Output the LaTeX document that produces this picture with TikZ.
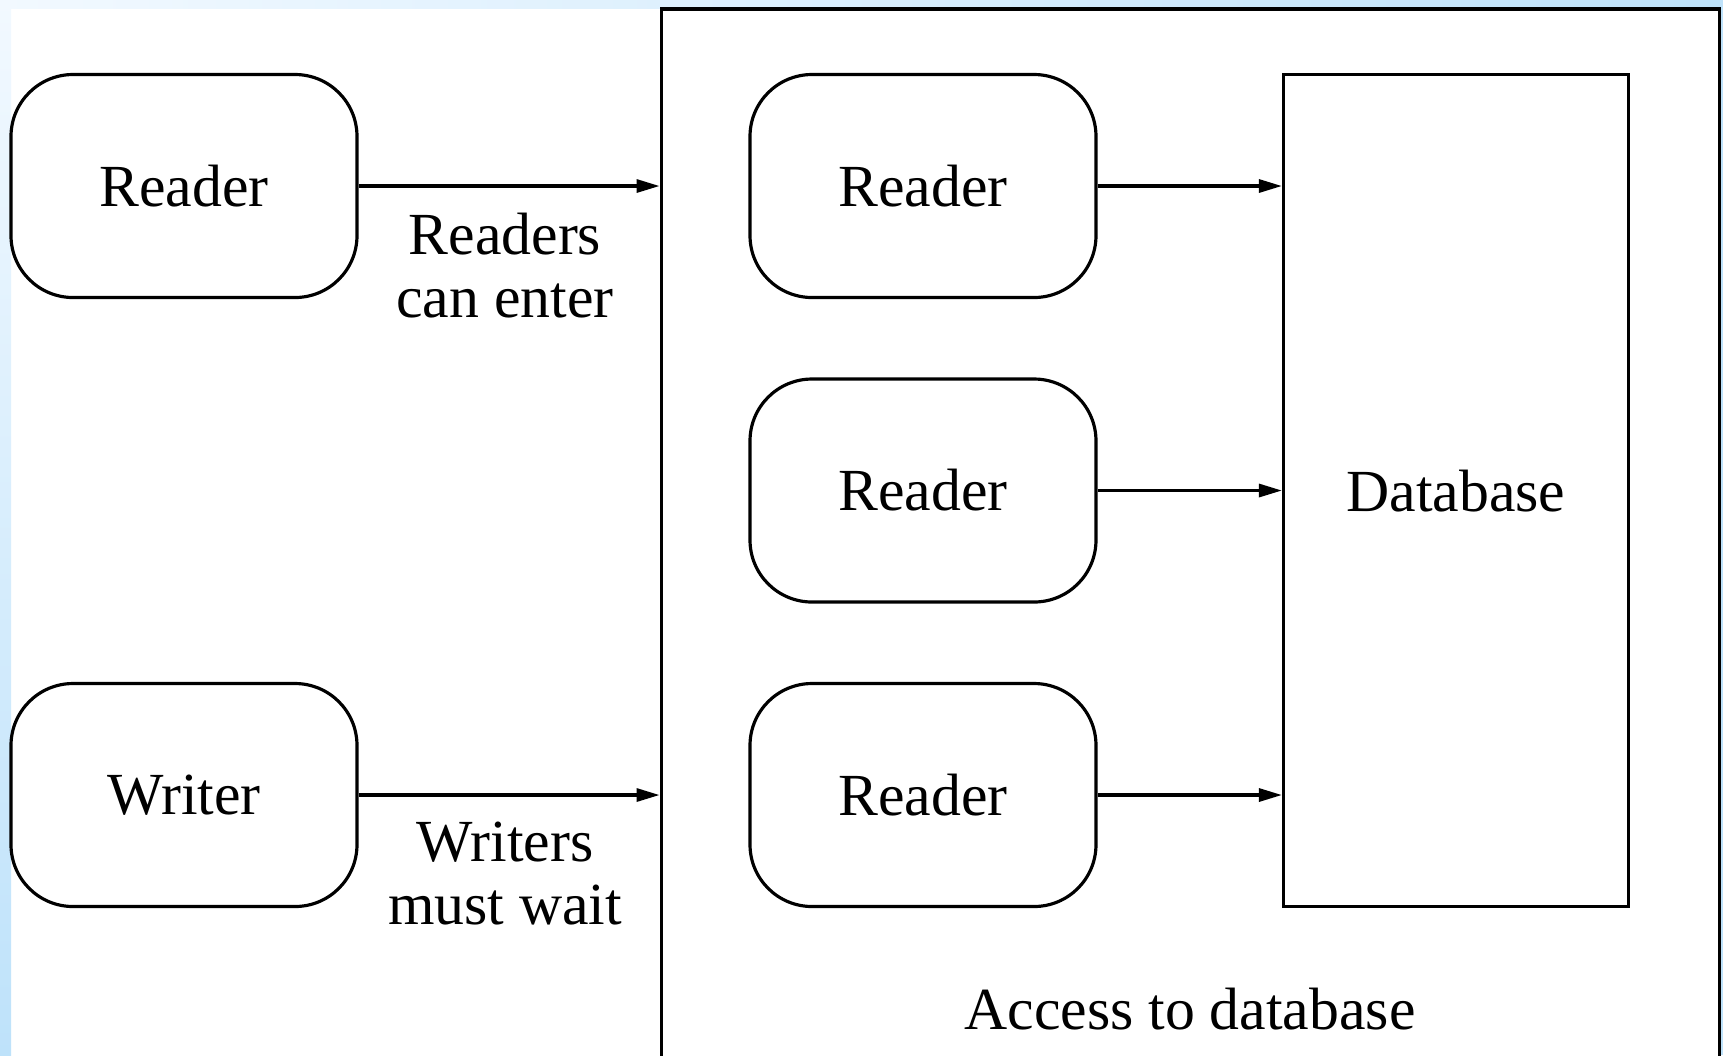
\documentclass[tikz,border=0pt]{standalone}
\usepackage{fontspec}
\setmainfont{Liberation Serif}
\usetikzlibrary{arrows.meta}
\definecolor{slideblue}{RGB}{190,226,250}
\definecolor{paleblue}{RGB}{242,249,255}
\begin{document}
\begin{tikzpicture}[
        proc/.style={rectangle, rounded corners=0.62cm, draw=black, line width=0.9pt, minimum width=3.46cm, minimum height=2.23cm, inner sep=0pt, align=center, font=\fontsize{17}{18}\selectfont},
        store/.style={rectangle, draw=black, line width=0.9pt, minimum width=3.45cm, minimum height=8.32cm, inner sep=0pt, font=\fontsize{17}{18}\selectfont},
        region/.style={rectangle, draw=black, line width=1.1pt, minimum width=10.58cm, minimum height=10.91cm, inner sep=0pt},
        note/.style={align=center, inner sep=0pt, font=\fontsize{17}{18}\selectfont},
        arrow/.style={-{Triangle[length=0.23cm, width=0.13cm]}, line width=0.9pt}
    ]

    % Slide background
    \useasboundingbox (0,0) rectangle (17.23,-10.55);
    \fill[white] (0,0) rectangle (17.23,-10.55);
    \shade[top color=paleblue, bottom color=slideblue] (0,0) rectangle (0.11,-10.55);
    \shade[left color=paleblue, right color=slideblue] (0,0) rectangle (17.23,-0.08);
    \fill[slideblue] (17.21,0) rectangle (17.23,-10.55);

    % Access region (open at the bottom of the slide)
    \node[region] (access) at (11.905,-5.545) {};
    \node[note] (accesslbl) at (11.90,-10.09) {Access to database};

    % Waiting processes outside
    \node[proc] (rdout) at (1.84,-1.86) {Reader};
    \node[proc] (wrout) at (1.84,-7.95) {Writer};

    % Readers inside
    \node[proc] (rdA) at (9.23,-1.86) {Reader};
    \node[proc] (rdB) at (9.23,-4.905) {Reader};
    \node[proc] (rdC) at (9.23,-7.95) {Reader};
    \node[store] (db) at (14.56,-4.906) {Database};

    % Entry arrows
    \draw[arrow] (rdout.east) -- (rdout.east -| access.west);
    \node[note] (rdnote) at (5.05,-2.655) {Readers\\can enter};
    \draw[arrow] (wrout.east) -- (wrout.east -| access.west);
    \node[note] (wrnote) at (5.05,-8.735) {Writers\\must wait};

    % Readers reach the database
    \draw[arrow] (rdA.east) -- (rdA.east -| db.west);
    \draw[arrow] (rdB.east) -- (rdB.east -| db.west);
    \draw[arrow] (rdC.east) -- (rdC.east -| db.west);

\end{tikzpicture}
\end{document}
